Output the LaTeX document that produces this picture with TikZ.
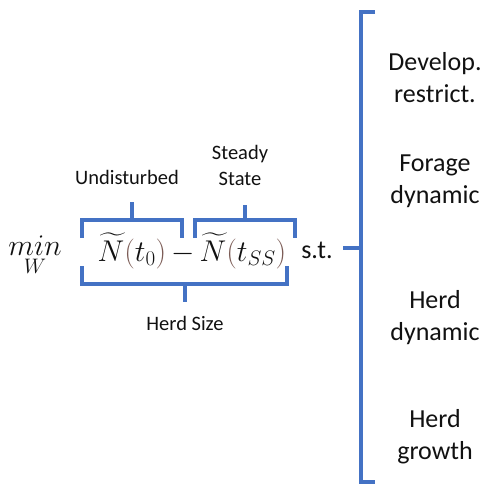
\RequirePackage{fix-cm}
\documentclass[tikz,border=0pt]{standalone}
\usepackage{amsmath}
\usepackage{fontspec}
\setmainfont{Carlito}
\usepackage{tikz}
\usetikzlibrary{positioning}
\definecolor{BraceBlue}{HTML}{4472C4}
\definecolor{ParenBrown}{HTML}{7B5B55}
\definecolor{Ink}{HTML}{111111}

\begin{document}
\begin{tikzpicture}[x=1pt, y=-1pt,
  label/.style={text=Ink, align=center, font=\fontsize{20.5}{26}\selectfont, inner sep=0pt},
  cons/.style={text=Ink, align=center, font=\fontsize{26}{32}\selectfont, inner sep=0pt},
  brace/.style={draw=BraceBlue, line width=4.5pt, line join=miter, line cap=butt}
]
  \useasboundingbox (0,0) rectangle (481,487);

  % objective
  \node[text=Ink, inner sep=0pt] (min) at (35,256)
    {\fontsize{30}{34}\selectfont$\underset{W}{min}$};
  \node[text=Ink, inner sep=0pt] (obj) at (192,251)
    {\fontsize{30}{34}\selectfont$\widetilde{N}\textcolor{ParenBrown}{(}t_0\textcolor{ParenBrown}{)}\,{-}\,\widetilde{N}\textcolor{ParenBrown}{(}t_{SS}\textcolor{ParenBrown}{)}$};
  \node[text=Ink, font=\fontsize{26}{28}\selectfont, inner sep=0pt] (st) at (317,250) {s.t.};

  % braces round the terms
  \draw[brace] (82,238) -- (82,220) -- (182,220) -- (182,238);
  \draw[brace] (132,220) -- (132,202);
  \draw[brace] (195,238) -- (195,220) -- (295,220) -- (295,238);
  \draw[brace] (245,220) -- (245,205);
  \draw[brace] (82,266) -- (82,284) -- (287,284) -- (287,266);
  \draw[brace] (185,284) -- (185,302);

  \node[label] (undist) at (127,177) {Undisturbed};
  \node[label] (steady) at (240,165) {Steady\\State};
  \node[label] (herdsize) at (185,323) {Herd Size};

  % constraint bracket
  \draw[brace] (375,12) -- (361,12) -- (361,482) -- (375,482);
  \draw[brace] (361,248) -- (343,248);

  \node[cons] (develop) at (435,78) {Develop.\\restrict.};
  \node[cons] (forage) at (435,181) {Forage\\dynamic};
  \node[cons] (herddyn) at (435,318) {Herd\\dynamic};
  \node[cons] (growth) at (435,437) {Herd\\growth};
\end{tikzpicture}
\end{document}
